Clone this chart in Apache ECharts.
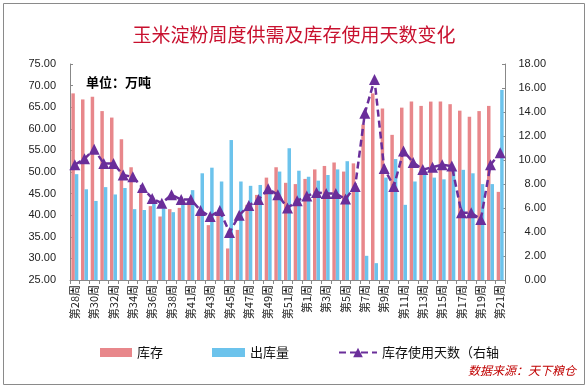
<!DOCTYPE html>
<html>
<head>
<meta charset="utf-8">
<script src="https://cdn.jsdelivr.net/npm/echarts@6/dist/echarts.min.js"></script>
<style>html,body{margin:0;padding:0;background:#fff;}#c{width:588px;height:388px;}</style>
</head>
<body>
<div id="c"></div>
<script>
var weeks = ['第28周','第29周','第30周','第31周','第32周','第33周','第34周','第35周','第36周','第37周','第38周','第40周',
  '第41周','第42周','第43周','第44周','第45周','第46周','第47周','第48周','第49周','第50周','第51周','第52周',
  '第1周','第2周','第3周','第4周','第5周','第6周','第7周','第8周','第9周','第10周','第11周','第12周','第13周','第14周',
  '第15周','第16周','第17周','第18周','第19周','第20周','第21周'];
var stock = [68.2,66.8,67.4,64.1,62.6,57.6,51.1,45.2,42.1,39.7,41.4,41.7,
  42.8,40.0,37.7,40.0,32.3,36.6,42.4,44.7,48.7,51.1,47.5,47.2,
  48.4,50.6,51.4,52.2,50.1,52.0,61.0,68.2,64.7,58.6,64.9,66.3,65.3,66.3,
  66.3,65.7,64.2,62.8,64.1,65.3,45.4];
var outflow = [49.5,46.0,43.3,46.5,44.8,46.3,41.4,41.2,42.6,41.6,40.7,42.6,
  45.8,49.7,51.0,47.8,57.4,47.8,46.8,47.0,45.0,50.1,55.5,50.3,
  48.9,48.0,49.3,50.6,52.5,45.8,30.6,28.9,48.7,53.0,42.4,47.8,49.3,48.7,
  48.3,50.5,50.5,49.7,47.2,47.2,69.0];
var days = [9.6,10.1,10.9,9.7,9.7,8.75,8.6,7.7,6.8,6.4,7.1,6.7,
  6.7,5.8,5.3,5.8,3.95,5.4,6.2,6.7,7.6,7.1,6.0,6.6,
  7.0,7.3,7.2,7.2,6.75,7.8,13.9,16.7,9.3,7.8,10.75,9.8,9.2,9.4,
  9.6,9.5,5.6,5.6,5.05,9.6,10.6];
var nameStock = '库存', nameOut = '出库量', nameDays = '库存使用天数（右轴';

var chart = echarts.init(document.getElementById('c'), null, {renderer:'canvas'});
var numFont = {fontFamily:'Liberation Sans, Arial, sans-serif', fontSize:11, color:'#222'};
var legendText = {fontFamily:'Noto Sans CJK SC', fontSize:13, color:'#111'};
chart.setOption({
  animation:false,
  backgroundColor:'#fff',
  title:{text:'玉米淀粉周度供需及库存使用天数变化', left:'center', top:20,
    textStyle:{fontFamily:'Noto Sans CJK SC', fontSize:19, fontWeight:'normal', color:'#C8102E'}},
  legend:[
    {data:[nameStock], left:95, top:341, itemWidth:32, itemHeight:9, icon:'rect', textStyle:legendText, itemGap:4},
    {data:[nameOut], left:207, top:341, itemWidth:33, itemHeight:9, icon:'rect', textStyle:legendText},
    {data:[nameDays], left:333, top:341, itemWidth:38, itemHeight:12, textStyle:legendText}
  ],
  grid:{left:70, right:83, top:64, bottom:108},
  xAxis:{type:'category', data:weeks, boundaryGap:true,
    axisLine:{lineStyle:{color:'#888'}},
    axisTick:{show:true, interval:0, length:4, lineStyle:{color:'#888'}},
    axisLabel:{interval:1, rotate:90, fontFamily:'Noto Sans CJK SC', fontSize:11, color:'#222', margin:5}},
  yAxis:[
    {type:'value', min:25, max:75, interval:5,
      axisLine:{show:true, lineStyle:{color:'#888'}},
      axisTick:{show:true, inside:true, length:3, lineStyle:{color:'#888'}},
      splitLine:{show:false},
      axisLabel:Object.assign({margin:14, formatter:function(v){return v.toFixed(2);}}, numFont)},
    {type:'value', min:0, max:18, interval:2, position:'right',
      axisLine:{show:true, lineStyle:{color:'#888'}},
      axisTick:{show:true, inside:true, length:3, lineStyle:{color:'#888'}},
      splitLine:{show:false},
      axisLabel:Object.assign({margin:41, align:'right', formatter:function(v){return v.toFixed(2);}}, numFont)}
  ],
  series:[
    {name:nameStock, type:'bar', data:stock, barWidth:'36%', barGap:'0%',
      itemStyle:{color:'#E8878B'}},
    {name:nameOut, type:'bar', data:outflow, barWidth:'36%', barGap:'0%',
      itemStyle:{color:'#6CC3EC'}},
    {name:nameDays, type:'line', yAxisIndex:1, data:days, symbol:'triangle', symbolSize:11,
      showSymbol:true, showAllSymbol:true,
      lineStyle:{color:'#6A2E9A', width:2.5, type:[7,4]},
      itemStyle:{color:'#6A2E9A'}, z:5}
  ],
  graphic:[
    {type:'rect', shape:{x:3.5, y:3.5, width:581, height:381}, style:{fill:'none', stroke:'#8a8a8a', lineWidth:1}, silent:true},
    {type:'text', left:86, top:76, style:{text:'单位：万吨', font:'bold 13px "Noto Sans CJK SC"', fill:'#000'}},
    {type:'text', right:12, top:364, style:{text:'数据来源：天下粮仓', font:'italic 12px "Noto Sans CJK SC"', fill:'#C00000'}}
  ]
});
</script>
</body>
</html>
